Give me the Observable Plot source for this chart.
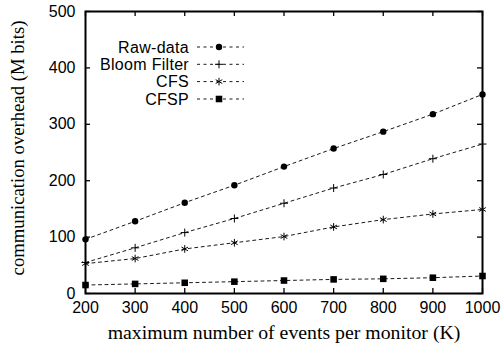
<!DOCTYPE html>
<html>
<head>
<meta charset="utf-8">
<script src="https://cdn.jsdelivr.net/npm/d3@7"></script>
<script src="https://cdn.jsdelivr.net/npm/@observablehq/plot@0.6"></script>
<style>
  html, body { margin: 0; padding: 0; background: #fff; }
</style>
</head>
<body>
<div id="chart"></div>
<script>
const xValues = [200, 300, 400, 500, 600, 700, 800, 900, 1000];
const seriesNames = ["Raw-data", "Bloom Filter", "CFS", "CFSP"];
const rawData = [96, 128, 161, 192, 225, 257, 287, 318, 353];
const bloomFilter = [55, 81, 108, 133, 160, 187, 211, 239, 265];
const cfs = [53, 62, 79, 90, 101, 118, 131, 141, 149];
const cfsp = [15, 17, 19, 21, 23, 25, 26, 28, 31];
const xTicks = [200, 300, 400, 500, 600, 700, 800, 900, 1000];
const yTicks = [0, 100, 200, 300, 400, 500];
const xLabel = "maximum number of events per monitor (K)";
const yLabel = "communication overhead (M bits)";

const seriesValues = [rawData, bloomFilter, cfs, cfsp];
const table = [];
seriesNames.forEach((s, i) => xValues.forEach((x, j) => table.push({series: s, x, y: seriesValues[i][j]})));

const W = 503, H = 349;
const mL = 85, mR = 21, mT = 11, mB = 56;
const innerW = W - mL - mR, innerH = H - mT - mB;
const sans = "'Liberation Sans', Arial, sans-serif";
const serif = "'Liberation Serif', 'Times New Roman', serif";

const symbolSpec = {
  "Raw-data": {symbol: "circle", r: 3.2, fill: "black", stroke: "none"},
  "Bloom Filter": {symbol: "plus", r: 2.7, fill: "none", stroke: "black"},
  "CFS": {symbol: "asterisk", r: 3.6, fill: "none", stroke: "black"},
  "CFSP": {symbol: "square", r: 3.7, fill: "black", stroke: "none"}
};

const dotMarks = seriesNames.map(s => Plot.dot(table.filter(d => d.series === s), {
  x: "x", y: "y", symbol: symbolSpec[s].symbol, r: symbolSpec[s].r,
  fill: symbolSpec[s].fill, stroke: symbolSpec[s].stroke, strokeWidth: 1
}));

const svg = Plot.plot({
  width: W, height: H,
  marginLeft: mL, marginRight: mR, marginTop: mT, marginBottom: mB,
  style: {fontFamily: sans, fontSize: "16px", background: "white", color: "black"},
  x: {domain: [200, 1000]},
  y: {domain: [0, 500]},
  marks: [
    Plot.line(table, {x: "x", y: "y", z: "series", stroke: "black", strokeWidth: 0.9, strokeDasharray: "3,3.5"}),
    ...dotMarks,
    // inward ticks on all four sides
    Plot.tickX(xTicks, {x: d => d, insetTop: innerH - 5, stroke: "black", strokeWidth: 1.3}),
    Plot.tickX(xTicks, {x: d => d, insetBottom: innerH - 5, stroke: "black", strokeWidth: 1.3}),
    Plot.tickY(yTicks, {y: d => d, insetRight: innerW - 5, stroke: "black", strokeWidth: 1.3}),
    Plot.tickY(yTicks, {y: d => d, insetLeft: innerW - 5, stroke: "black", strokeWidth: 1.3}),
    Plot.axisX({ticks: xTicks, tickSize: 0, tickPadding: 8, label: null, fontSize: 16, tickFormat: d3.format("d")}),
    Plot.axisY({ticks: yTicks, tickSize: 0, tickPadding: 10, label: null, fontSize: 16, tickFormat: d3.format("d")}),
    Plot.text([xLabel], {text: d => d, frameAnchor: "bottom", lineAnchor: "bottom", textAnchor: "middle", dy: 45, fontFamily: serif, fontSize: 19.8, fill: "black"}),
    Plot.text([yLabel], {text: d => d, frameAnchor: "left", lineAnchor: "bottom", textAnchor: "middle", rotate: -90, dx: -62, dy: -4.5, fontFamily: serif, fontSize: 18.7, fill: "black"}),
    Plot.frame({stroke: "black", strokeWidth: 2})
  ]
});

// Legend (inside plot, top-left)
const legendRows = [47, 64.3, 81.6, 99];
const g = d3.select(svg).append("g").attr("class", "legend");
const symMap = {circle: d3.symbolCircle, plus: d3.symbolPlus, asterisk: d3.symbolAsterisk, square: d3.symbolSquare};
seriesNames.forEach((s, i) => {
  const y = legendRows[i];
  g.append("text").attr("x", 189).attr("y", y).attr("dy", "0.36em")
    .attr("text-anchor", "end").attr("font-family", sans).attr("font-size", 16)
    .attr("letter-spacing", "0.3px")
    .attr("fill", "black").text(s);
  g.append("line").attr("x1", 197).attr("x2", 244).attr("y1", y).attr("y2", y)
    .attr("stroke", "black").attr("stroke-width", 0.9).attr("stroke-dasharray", "3,3.5");
  const spec = symbolSpec[s];
  g.append("path").attr("transform", `translate(219,${y})`)
    .attr("d", d3.symbol(symMap[spec.symbol], Math.PI * spec.r * spec.r)())
    .attr("fill", spec.fill).attr("stroke", spec.stroke).attr("stroke-width", 1);
});

document.getElementById("chart").appendChild(svg);
</script>
</body>
</html>
